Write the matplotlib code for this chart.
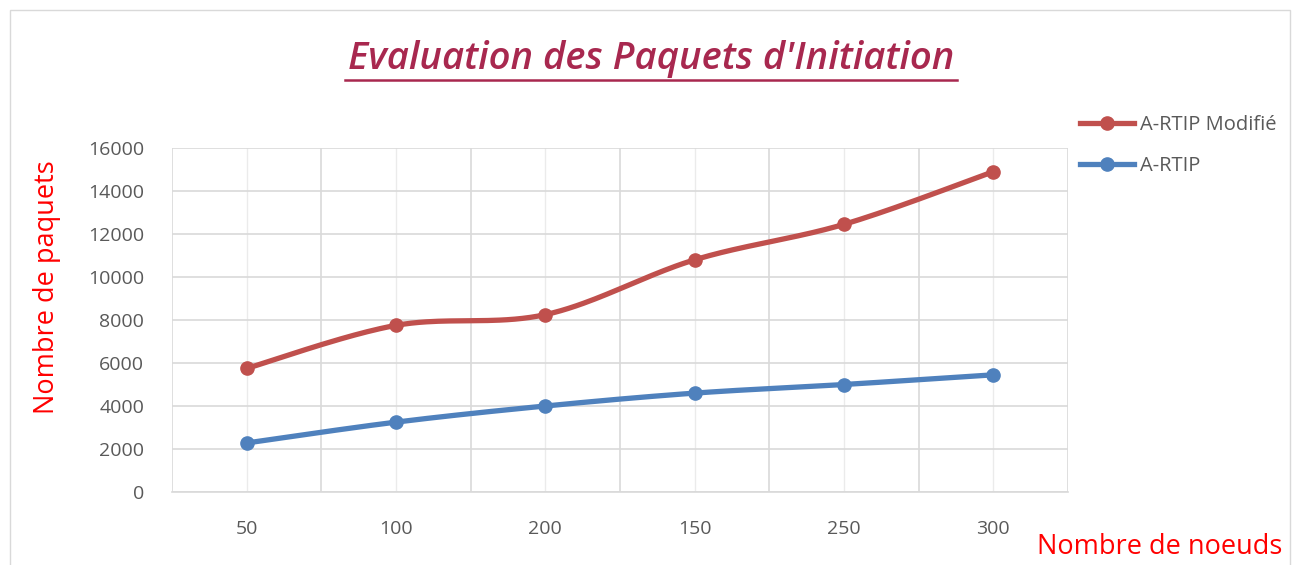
import numpy as np
import matplotlib
matplotlib.use("Agg")
import matplotlib.pyplot as plt
from matplotlib.patches import Rectangle
from matplotlib.lines import Line2D

categories = ["50", "100", "200", "150", "250", "300"]
rtip_modifie = [5750, 7750, 8250, 10800, 12450, 14900]
rtip = [2280, 3250, 4000, 4600, 5000, 5450]
yticks = [0, 2000, 4000, 6000, 8000, 10000, 12000, 14000, 16000]

RED = "#C0504D"
BLUE = "#4F81BD"
GRID = "#D9D9D9"
TXT = "#595959"

plt.rcParams['font.family'] = ['Open Sans', 'DejaVu Sans']


def smooth(xs, ys, n=40):
    xs = np.asarray(xs, float)
    ys = np.asarray(ys, float)
    px = np.concatenate([[xs[0]], xs, [xs[-1]]])
    py = np.concatenate([[ys[0]], ys, [ys[-1]]])
    ox, oy = [], []
    for i in range(1, len(px) - 2):
        p0x, p1x, p2x, p3x = px[i - 1], px[i], px[i + 1], px[i + 2]
        p0y, p1y, p2y, p3y = py[i - 1], py[i], py[i + 1], py[i + 2]
        c1x = p1x + (p2x - p0x) / 6
        c1y = p1y + (p2y - p0y) / 6
        c2x = p2x - (p3x - p1x) / 6
        c2y = p2y - (p3y - p1y) / 6
        t = np.linspace(0, 1, n)
        bx = (1 - t) ** 3 * p1x + 3 * (1 - t) ** 2 * t * c1x + 3 * (1 - t) * t ** 2 * c2x + t ** 3 * p2x
        by = (1 - t) ** 3 * p1y + 3 * (1 - t) ** 2 * t * c1y + 3 * (1 - t) * t ** 2 * c2y + t ** 3 * p2y
        ox.extend(bx)
        oy.extend(by)
    return np.array(ox), np.array(oy)


fig = plt.figure(figsize=(12.99, 5.65), dpi=100)
fig.patches.append(Rectangle((10 / 1299, -0.01), 1280 / 1299, 1 - 10 / 565 + 0.01,
                             transform=fig.transFigure, fill=False,
                             edgecolor=GRID, linewidth=1.0))

ax = fig.add_axes([172 / 1299, 1 - 492 / 565, (1068 - 172) / 1299, (492 - 148) / 565])
x = np.arange(len(categories))

ax.set_xlim(-0.5, len(categories) - 0.5)
ax.set_ylim(0, 16000)
ax.set_yticks(yticks)
ax.set_yticklabels([str(v) for v in yticks])
ax.set_xticks(x)
ax.set_xticklabels(categories)
ax.set_xticks(np.arange(-0.5, len(categories), 1.0), minor=True)

ax.grid(True, which='major', axis='y', color=GRID, linewidth=1.2)
ax.grid(True, which='major', axis='x', color="#EBEBEB", linewidth=1.0)
ax.grid(True, which='minor', axis='x', color=GRID, linewidth=1.2)
ax.set_axisbelow(True)

for s in ['top', 'right', 'left']:
    ax.spines[s].set_visible(False)
ax.spines['bottom'].set_color(GRID)
ax.spines['bottom'].set_linewidth(1.2)

ax.tick_params(axis='both', which='both', length=0, colors=TXT, labelsize=14)
ax.tick_params(axis='y', pad=20)
ax.tick_params(axis='x', pad=20)

sx, sy = smooth(x, rtip_modifie)
ax.plot(sx, sy, color=RED, linewidth=3.8, solid_capstyle='round', zorder=3)
ax.plot(x, rtip_modifie, 'o', color=RED, markersize=9.5, zorder=4)
sx, sy = smooth(x, rtip)
ax.plot(sx, sy, color=BLUE, linewidth=3.8, solid_capstyle='round', zorder=3)
ax.plot(x, rtip, 'o', color=BLUE, markersize=9.5, zorder=4)

handles = [Line2D([], [], color=RED, linewidth=3.8, marker='o', markersize=9.5),
           Line2D([], [], color=BLUE, linewidth=3.8, marker='o', markersize=9.5)]
leg = fig.legend(handles, ["A-RTIP Modifié", "A-RTIP"], loc='upper left',
                 bbox_to_anchor=(1072 / 1299, 1 - 107 / 565), frameon=False,
                 fontsize=14.5, handlelength=2.7, handletextpad=0.3,
                 labelspacing=1.05, borderaxespad=0)
for t in leg.get_texts():
    t.set_color(TXT)

fig.text(651 / 1299, 1 - 59 / 565, "Evaluation des Paquets d'Initiation",
         ha='center', va='center', fontsize=27.5, fontstyle='italic',
         fontweight='semibold', color="#A8284F")
fig.add_artist(Line2D([345 / 1299, 957 / 1299], [1 - 80 / 565, 1 - 80 / 565],
                      color="#A8284F", linewidth=1.8, transform=fig.transFigure))

fig.text(47 / 1299, 1 - 287 / 565, "Nombre de paquets", rotation=90,
         ha='center', va='center', fontsize=19.5, color="red")
fig.text(1282 / 1299, 1 - 547 / 565, "Nombre de noeuds",
         ha='right', va='center', fontsize=19.5, color="red")

fig.savefig("out.png", dpi=100)
